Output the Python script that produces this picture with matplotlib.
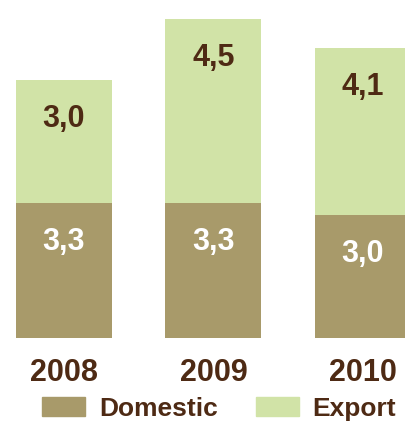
import matplotlib.pyplot as plt
from matplotlib.patches import Patch

years = ['2008', '2009', '2010']
domestic = [3.3, 3.3, 3.0]
export = [3.0, 4.5, 4.1]
dom_labels = ['3,3', '3,3', '3,0']
exp_labels = ['3,0', '4,5', '4,1']

c_dom = '#a89a6a'
c_exp = '#d1e3a7'
c_txt = '#4e2a14'

plt.rcParams['font.family'] = ['Liberation Sans', 'DejaVu Sans']
plt.rcParams['font.weight'] = 'bold'

fig = plt.figure(figsize=(4.05, 4.22), dpi=100)
ax = fig.add_axes([0, 0.2, 1, 0.8])

x = range(len(years))
w = 0.642
ax.bar(x, domestic, w, color=c_dom)
ax.bar(x, export, w, bottom=domestic, color=c_exp)

off = 0.95
for i in x:
    ax.text(i, domestic[i] - off, dom_labels[i], ha='center', va='center',
            color='white', fontsize=22, fontweight='bold')
    top = domestic[i] + export[i]
    ax.text(i, top - off, exp_labels[i], ha='center', va='center',
            color=c_txt, fontsize=22, fontweight='bold')
    ax.text(i, -0.87, years[i], ha='center', va='center',
            color=c_txt, fontsize=22, fontweight='bold')

ax.set_xlim(-0.428, 2.281)
ax.set_ylim(0, 8.27)
ax.axis('off')

handles = [Patch(color=c_dom, label='Domestic'), Patch(color=c_exp, label='Export')]
leg = fig.legend(handles=handles, loc='center', bbox_to_anchor=(219 / 405, 1 - 409 / 422),
                 ncol=2, frameon=False, fontsize=19, handlelength=1.63, handleheight=0.72,
                 handletextpad=0.53, columnspacing=1.44, borderpad=0, borderaxespad=0)
for t in leg.get_texts():
    t.set_color(c_txt)
    t.set_fontweight('bold')

fig.savefig('out.png', dpi=100, facecolor='white')
